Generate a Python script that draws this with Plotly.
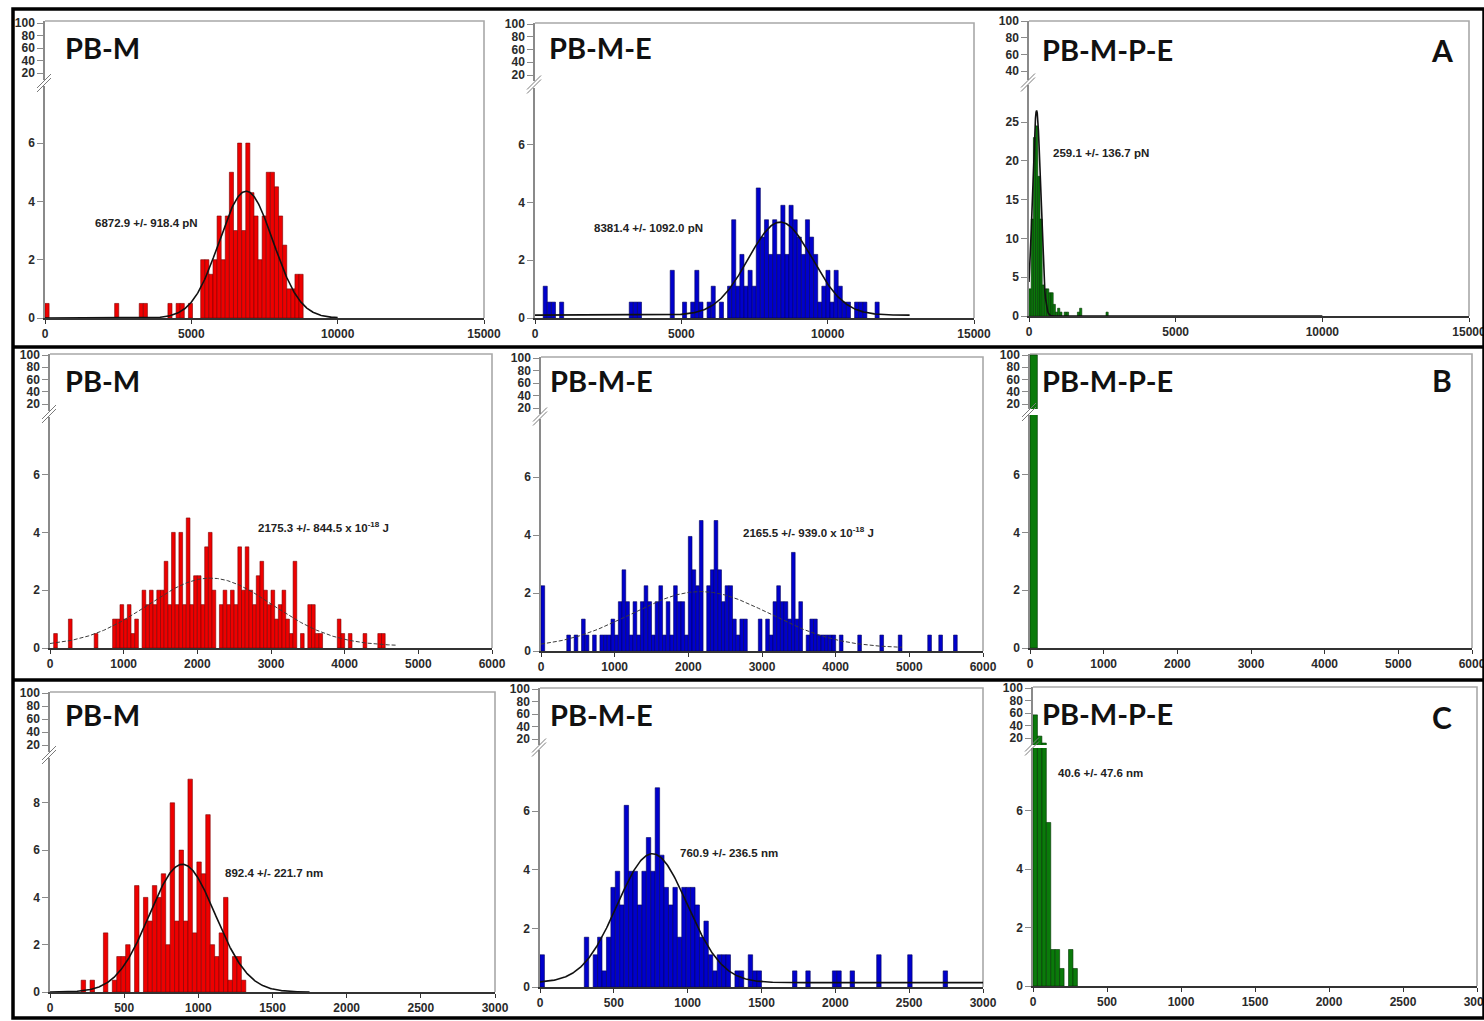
import numpy as np
import plotly.graph_objects as go

W, H = 1484, 1021

# ---------------- data ----------------
panel_titles = ["PB-M", "PB-M-E", "PB-M-P-E"] * 3
row_letters = ["A", "B", "C"]
stat_texts = [
    "6872.9 +/- 918.4 pN", "8381.4 +/- 1092.0 pN", "259.1 +/- 136.7 pN",
    "2175.3 +/- 844.5 x 10<sup>-18</sup> J", "2165.5 +/- 939.0 x 10<sup>-18</sup> J", "",
    "892.4 +/- 221.7 nm", "760.9 +/- 236.5 nm", "40.6 +/- 47.6 nm",
]

x_ticks_A = [0, 5000, 10000, 15000]
x_ticks_B = [0, 1000, 2000, 3000, 4000, 5000, 6000]
x_ticks_C = [0, 500, 1000, 1500, 2000, 2500, 3000]
x_range_A = [0, 15000]
x_range_B = [0, 6000]
x_range_C = [0, 3000]
upper_ticks = [20, 40, 60, 80, 100]
upper_ticks_A3 = [40, 60, 80, 100]
lower_ticks = [0, 2, 4, 6]
lower_ticks_C1 = [0, 2, 4, 6, 8]
lower_ticks_A3 = [0, 5, 10, 15, 20, 25]

# histogram bin widths (x units)
bin_w = [140, 140, 75, 50, 50, 100, 30, 30, 30]

# A: rupture force (pN)
A1_left = [0, 2380, 3220, 3360, 4200, 4480, 4620, 4900,
           5320, 5460, 5600, 5740, 5880, 6020, 6160, 6300, 6440, 6580, 6720, 6860,
           7000, 7140, 7280, 7420, 7560, 7700, 7840, 7980, 8120, 8260, 8400, 8540, 8680]
A1_h = [0.5, 0.5, 0.5, 0.5, 0.5, 0.5, 0.5, 0.5,
        2, 2, 1.5, 2, 3.5, 2, 3.5, 5, 3, 6, 3, 6,
        4.3, 3.5, 2, 3.5, 5, 5, 4.5, 3.5, 2.5, 1, 1, 1.5, 1.5]

A2_left = [280, 420, 560, 840, 3220, 3360, 3500, 4620, 5040, 5320, 5460, 5600, 5880, 6020, 6300,
           6580, 6720, 6860, 7000, 7140, 7280, 7420, 7560, 7700, 7840, 7980, 8120, 8260, 8400,
           8540, 8680, 8820, 8960, 9100, 9240, 9380, 9520, 9660, 9800, 9940, 10080, 10220,
           10360, 10500, 10640, 10920, 11060, 11200, 11620]
A2_h = [1.1, 0.55, 0.55, 0.55, 0.55, 0.55, 0.55, 1.65, 0.55, 0.55, 1.65, 0.55, 0.55, 1.1, 0.55,
        1.1, 3.4, 1.1, 2.2, 1.1, 1.65, 1.1, 4.5, 2.8, 3.4, 2.2, 3.4, 2.2, 3.9,
        2.2, 3.9, 3.4, 2.8, 2.2, 3.4, 2.8, 2.2, 0.55, 1.1, 1.65, 0.55, 1.65,
        1.1, 0.55, 0.55, 0.55, 0.55, 0.55, 0.55]

A3_left = [0, 75, 150, 225, 300, 375, 450, 525, 600, 675, 750, 825, 900, 975, 1050,
           1200, 1275, 1650, 1725, 2625]
A3_h = [3.5, 12.5, 23, 24.5, 18, 12.5, 4, 3.5, 3.5, 3, 3, 1.5, 0.5, 1.0, 0.5,
        0.5, 0.5, 0.5, 1.0, 0.5]

# B: energy (x 10^-18 J)
B1_left = [50, 250, 600, 850, 900, 950, 1000, 1050, 1100, 1150, 1250, 1300, 1350, 1400, 1450,
           1500, 1550, 1600, 1650, 1700, 1750, 1800, 1850, 1900, 1950, 2000, 2050, 2100, 2150,
           2200, 2300, 2350, 2400, 2450, 2500, 2550, 2600, 2650, 2700, 2750, 2800, 2850, 2900,
           2950, 3000, 3050, 3100, 3150, 3200, 3250, 3300, 3400, 3500, 3550, 3600, 3650, 3900,
           3950, 4050, 4250, 4450, 4500]
B1_h = [0.5, 1, 0.5, 1, 1, 1.5, 1, 1.5, 0.5, 1, 2, 1.5, 2, 1.5, 2,
        2, 3, 1.5, 4, 1.5, 4, 1.5, 4.5, 1.5, 2.5, 2.5, 1.5, 3.5, 4,
        2, 1.5, 2, 1.5, 2, 1.5, 3.5, 2, 3.5, 2, 1.5, 2.5, 3, 2,
        1.5, 2, 1, 1.5, 2, 1, 0.5, 3, 0.5, 1.5, 1.5, 0.5, 0.5, 1,
        0.5, 0.5, 0.5, 0.5, 0.5]

B2_left = [0, 350, 450, 550, 600, 700, 800, 850, 900, 950, 1000, 1050, 1100, 1150, 1200,
           1250, 1300, 1350, 1400, 1450, 1500, 1550, 1600, 1650, 1700, 1750, 1800, 1850, 1900,
           1950, 2000, 2050, 2100, 2150, 2250, 2300, 2350, 2400, 2450, 2500, 2550, 2600, 2650,
           2700, 2750, 2950, 3050, 3100, 3150, 3200, 3250, 3300, 3350, 3400, 3450, 3500, 3600,
           3650, 3700, 3750, 3800, 3850, 3900, 3950, 4050, 4300, 4600, 4850, 5250, 5400, 5600]
B2_h = [2.25, 0.55, 0.55, 1.1, 0.55, 0.55, 0.55, 0.55, 0.55, 1.1, 0.55, 1.7, 2.8, 1.7, 0.55,
        1.7, 0.55, 1.7, 2.25, 1.7, 0.55, 1.7, 2.25, 0.55, 1.7, 0.55, 2.25, 1.7, 1.7,
        0.55, 3.95, 2.8, 2.25, 4.5, 2.25, 2.8, 4.5, 2.8, 1.7, 2.25, 2.25, 1.1, 0.55,
        1.1, 1.1, 1.1, 1.1, 0.55, 1.7, 2.25, 1.7, 1.7, 1.1, 3.4, 1.1, 1.7, 0.55,
        1.1, 1.1, 0.55, 0.55, 0.55, 0.55, 0.55, 0.55, 0.55, 0.55, 0.55, 0.55, 0.55, 0.55]

B3_left = [0]
B3_h = [100]

# C: length (nm)
C1_left = [210, 270, 360, 420, 450, 480, 510, 570, 630, 660, 690, 720, 750, 780, 810, 840,
           870, 900, 930, 960, 990, 1020, 1050, 1080, 1110, 1140, 1170, 1200, 1230, 1260, 1290]
C1_h = [0.5, 0.5, 2.5, 0.5, 1.5, 1.5, 2, 4.5, 4, 3, 4.5, 4, 5, 2, 8, 3,
        6, 3, 9, 2.5, 5.5, 5, 7.5, 2, 1.5, 2.5, 4, 0.5, 1.5, 1.5, 0.5]

C2_left = [0, 300, 360, 390, 420, 450, 480, 510, 540, 570, 600, 630, 660, 690, 720, 750,
           780, 810, 840, 870, 900, 930, 960, 990, 1020, 1050, 1080, 1110, 1140, 1170, 1200,
           1230, 1260, 1320, 1350, 1410, 1440, 1470, 1710, 1800, 1980, 2010, 2100, 2280,
           2490, 2730]
C2_h = [1.1, 1.7, 1.1, 1.7, 0.55, 1.7, 3.4, 3.95, 2.8, 6.2, 3.95, 3.95, 2.8, 3.95, 5.1, 3.95,
        6.8, 4.5, 3.4, 2.8, 3.4, 1.7, 3.4, 3.4, 3.4, 2.8, 1.7, 2.25, 1.1, 0.55, 1.1,
        1.1, 1.1, 0.55, 0.55, 1.1, 0.55, 0.55, 0.55, 0.55, 0.55, 0.55, 0.55, 1.1,
        1.1, 0.55]

C3_left = [0, 30, 60, 90, 120, 150, 180, 240, 270]
C3_h = [57, 23, 12, 5.6, 1.25, 1.25, 0.6, 1.25, 0.6]

# Gaussian fits (mean, sd from the printed results; peak/base)
fit_mean = [6872.9, 8381.4, 259.1, 2175.3, 2165.5, None, 892.4, 760.9, None]
fit_sd = [918.4, 1092.0, 136.7, 844.5, 939.0, None, 221.7, 236.5, None]
fit_peak = [4.35, 3.22, 26.5, 2.35, 1.95, None, 5.4, 4.4, None]
fit_base = [0.0, 0.1, 0.0, 0.07, 0.1, None, 0.0, 0.15, None]
fit_xmax = [10000, 12800, 10000, 4700, 4900, None, 1750, 3000, None]

# ---------------- styling / layout ----------------
lefts = [A1_left, A2_left, A3_left, B1_left, B2_left, B3_left, C1_left, C2_left, C3_left]
heights = [A1_h, A2_h, A3_h, B1_h, B2_h, B3_h, C1_h, C2_h, C3_h]
for a, b in zip(lefts, heights):
    assert len(a) == len(b), (len(a), len(b))

x_ticks = [x_ticks_A] * 3 + [x_ticks_B] * 3 + [x_ticks_C] * 3
x_ranges = [x_range_A] * 3 + [x_range_B] * 3 + [x_range_C] * 3
up_ticks = [upper_ticks, upper_ticks, upper_ticks_A3] + [upper_ticks] * 6
lo_ticks = [lower_ticks, lower_ticks, lower_ticks_A3, lower_ticks, lower_ticks, lower_ticks,
            lower_ticks_C1, lower_ticks, lower_ticks]

fills = ["#ee0000", "#0000cc", "#0a7a0a"]
edges = ["#7a0000", "#00005a", "#003300"]

# pixel geometry: left, right, zero_py, px per unit (lower), lower_top,
#                 py of 100, low tick value, py of low tick, upper_top, upper_bottom
geo = [
    (45, 484, 318, 29.15, 86, 23, 20, 73, 21, 80),
    (535, 974, 318, 28.9, 88, 24, 20, 75, 23, 81),
    (1029, 1469, 316, 7.76, 85, 21, 40, 71, 21, 80),
    (50, 492, 648, 28.9, 417, 355, 20, 404, 354, 411),
    (541, 983, 651, 29.0, 419, 358, 20, 408, 357, 414),
    (1030, 1472, 648, 28.9, 415, 355, 20, 404, 354, 409),
    (50, 495, 992, 23.65, 758, 693, 20, 745, 692, 752),
    (540, 983, 987, 29.3, 750, 689, 20, 739, 688, 745),
    (1033, 1477, 986, 29.2, 748, 688, 20, 738, 687, 745),
]
title_pos = [(63, 47), (547, 47), (1040, 50), (63, 380), (548, 380), (1040, 380),
             (63, 714), (548, 714), (1040, 713)]
stat_pos = [(93, 223), (592, 228), (1051, 153), (256, 527), (741, 532), (0, 0),
            (223, 873), (678, 853), (1056, 773)]
letter_pos = [(1442, 50), (1442, 380), (1442, 717)]


def clamp(v):
    return min(1.0, max(0.0, v))


def px(x):
    return x / W


def py(y):
    return 1 - y / H


def ax_name(n, kind):
    return kind if n == 1 else f"{kind}{n}"


def ax_key(n, kind):
    return f"{kind}axis" if n == 1 else f"{kind}axis{n}"


fig = go.Figure()
layout = {}
shapes = []
annotations = []

tick_font = dict(family="Liberation Sans, Arial", size=12, color="#2a2a2a", weight="bold")
common = dict(showgrid=False, zeroline=False, fixedrange=True, automargin=False)

for k in range(9):
    left, right, zero_py, ppu, ltop, hi_py, lo_v, lo_py, utop, ubot = geo[k]
    col = k % 3
    nl, nu = 2 * k + 1, 2 * k + 2
    xl, yl = ax_name(nl, "x"), ax_name(nl, "y")
    xu, yu = ax_name(nu, "x"), ax_name(nu, "y")

    lower_max = (zero_py - ltop) / ppu
    s = (lo_py - hi_py) / (100 - lo_v)
    up_lo = lo_v - (ubot - lo_py) / s
    up_hi = 100 + (hi_py - utop) / s
    xdom = [clamp(px(left)), clamp(px(right))]

    layout[ax_key(nl, "x")] = dict(
        domain=xdom, range=x_ranges[k], anchor=yl,
        tickvals=x_ticks[k], ticktext=[str(v) for v in x_ticks[k]],
        showline=True, linecolor="#333333", linewidth=1.6,
        ticks="outside", ticklen=4, tickcolor="#333333", tickwidth=1,
        tickfont=tick_font, ticklabeloverflow="allow", **common)
    layout[ax_key(nu, "x")] = dict(
        domain=xdom, range=x_ranges[k], anchor=yu,
        matches=xl, showticklabels=False, showline=False, ticks="", **common)
    layout[ax_key(nl, "y")] = dict(
        domain=[clamp(py(zero_py)), clamp(py(ltop))], range=[0, lower_max], anchor=xl,
        tickvals=lo_ticks[k], ticktext=[str(v) for v in lo_ticks[k]],
        showline=True, linecolor="#8a8a8a", linewidth=1.5,
        ticks="outside", ticklen=6, tickcolor="#8a8a8a", tickwidth=1,
        tickfont=tick_font, ticklabeloverflow="allow", **common)
    layout[ax_key(nu, "y")] = dict(
        domain=[clamp(py(ubot)), clamp(py(utop))], range=[up_lo, up_hi], anchor=xu,
        tickvals=up_ticks[k], ticktext=[str(v) for v in up_ticks[k]],
        showline=True, linecolor="#8a8a8a", linewidth=1.5,
        ticks="outside", ticklen=6, tickcolor="#8a8a8a", tickwidth=1,
        tickfont=tick_font, ticklabeloverflow="allow", **common)

    w = bin_w[k]
    centers = [l + w / 2 for l in lefts[k]]
    hs = heights[k]
    # lower (main) part
    fig.add_trace(go.Bar(
        x=centers, y=hs, width=w, xaxis=xl, yaxis=yl,
        marker=dict(color=fills[col], line=dict(color=edges[col], width=0.6)),
        showlegend=False, hoverinfo="skip"))
    # upper (broken-axis) part: only bars that reach it
    up_x = [c for c, h in zip(centers, hs) if h > up_lo]
    up_y = [h for h in hs if h > up_lo]
    if up_x:
        fig.add_trace(go.Bar(
            x=up_x, y=up_y, width=w, xaxis=xu, yaxis=yu,
            marker=dict(color=fills[col], line=dict(color=edges[col], width=0.6)),
            showlegend=False, hoverinfo="skip"))
    else:
        # empty trace so that the upper axis is drawn
        fig.add_trace(go.Scatter(x=[None], y=[None], mode="markers", xaxis=xu, yaxis=yu,
                                 showlegend=False, hoverinfo="skip"))

    if fit_mean[k] is not None:
        xs = np.linspace(x_ranges[k][0], fit_xmax[k], 500)
        ys = fit_base[k] + fit_peak[k] * np.exp(-0.5 * ((xs - fit_mean[k]) / fit_sd[k]) ** 2)
        if k in (3, 4):
            line = dict(color="#3a3a3a", width=1, dash="4px,2px")
        else:
            line = dict(color="#111111", width=1.6)
        fig.add_trace(go.Scatter(x=xs, y=ys, mode="lines", line=line, xaxis=xl, yaxis=yl,
                                 showlegend=False, hoverinfo="skip"))

    # gray frame: top and right sides
    shapes.append(dict(type="path", xref="paper", yref="paper",
                       path=f"M {px(left)},{py(utop)} L {px(right)},{py(utop)} L {px(right)},{py(zero_py)}",
                       line=dict(color="#a8a8a8", width=1.6), layer="below"))
    # axis-break marks
    mid = (ltop + ubot) / 2
    for off in (-2, 2):
        shapes.append(dict(type="line", xref="paper", yref="paper",
                           x0=px(left - 8), y0=py(mid + 7 + off), x1=px(left + 6), y1=py(mid - 7 + off),
                           line=dict(color="#7a7a7a", width=1)))

    tx, ty = title_pos[k]
    annotations.append(dict(text=f"<b>{panel_titles[k]}</b>", x=px(tx), y=py(ty),
                            xref="paper", yref="paper", xanchor="left", yanchor="middle",
                            showarrow=False,
                            font=dict(family="Lato", size=29, color="#111111", weight=900)))
    if stat_texts[k]:
        sx, sy = stat_pos[k]
        annotations.append(dict(text=stat_texts[k], x=px(sx), y=py(sy),
                                xref="paper", yref="paper", xanchor="left", yanchor="middle",
                                showarrow=False,
                                font=dict(family="Liberation Sans, Arial", size=11.5,
                                          color="#222222", weight="bold")))

for r in range(3):
    lx, ly = letter_pos[r]
    annotations.append(dict(text=f"<b>{row_letters[r]}</b>", x=px(lx), y=py(ly),
                            xref="paper", yref="paper", xanchor="center", yanchor="middle",
                            showarrow=False,
                            font=dict(family="Lato", size=30, color="#111111", weight=900)))

# outer black frame and row separators
shapes.append(dict(type="rect", xref="paper", yref="paper", x0=px(13), y0=py(1018), x1=px(1484), y1=py(9),
                   line=dict(color="#000000", width=3.5)))
for yy in (347, 680):
    shapes.append(dict(type="line", xref="paper", yref="paper", x0=px(13), x1=px(1484), y0=py(yy), y1=py(yy),
                       line=dict(color="#000000", width=3.5)))

fig.update_layout(
    width=W, height=H, margin=dict(l=0, r=0, t=0, b=0, pad=0, autoexpand=False),
    paper_bgcolor="white", plot_bgcolor="rgba(0,0,0,0)",
    barmode="overlay", showlegend=False,
    shapes=shapes, annotations=annotations, **layout)

fig.write_html("out.html", config={"displayModeBar": False, "responsive": False},
               post_script="document.body.style.margin='0';document.body.style.overflow='hidden';")
